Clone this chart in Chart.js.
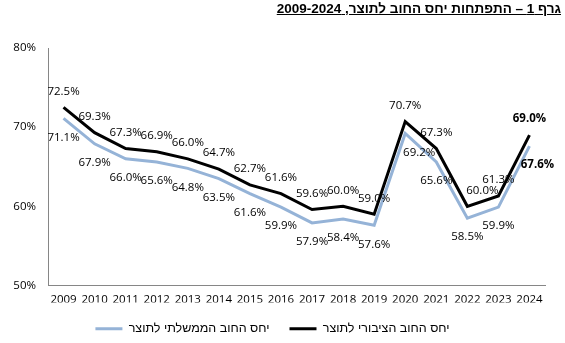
<!DOCTYPE html>
<html>
<head>
<meta charset="utf-8">
<script src="https://cdn.jsdelivr.net/npm/chart.js@4.4.1/dist/chart.umd.min.js"></script>
<style>
  body { margin: 0; background: #fff; }
  #wrap { position: relative; width: 565px; height: 343px; }
  #title {
    position: absolute; top: 1px; right: 4px;
    font: bold 13.5px "Liberation Sans", Arial, sans-serif;
    text-decoration: underline; white-space: nowrap; color: #000;
  }
</style>
</head>
<body>
<div id="wrap">
  <div id="title" dir="rtl">גרף 1 – התפתחות יחס החוב לתוצר, 2009-2024</div>
  <canvas id="chartDebt" width="565" height="343"></canvas>
</div>
<script>
const years = ['2009', '2010', '2011', '2012', '2013', '2014', '2015', '2016',
               '2017', '2018', '2019', '2020', '2021', '2022', '2023', '2024'];
// יחס החוב הממשלתי לתוצר
const govDebt = [71.1, 67.9, 66.0, 65.6, 64.8, 63.5, 61.6, 59.9, 57.9, 58.4, 57.6, 69.2, 65.6, 58.5, 59.9, 67.6];
// יחס החוב הציבורי לתוצר
const publicDebt = [72.5, 69.3, 67.3, 66.9, 66.0, 64.7, 62.7, 61.6, 59.6, 60.0, 59.0, 70.7, 67.3, 60.0, 61.3, 69.0];
const seriesNames = ['יחס החוב הממשלתי לתוצר', 'יחס החוב הציבורי לתוצר'];
const yMin = 50, yMax = 80, yStep = 10;

const labelFont = '"Open Sans", "Liberation Sans", sans-serif';

// value labels: black series above the point, blue series below
const valueLabels = {
  id: 'valueLabels',
  afterDatasetsDraw(chart) {
    const ctx = chart.ctx;
    chart.data.datasets.forEach((ds, di) => {
      const meta = chart.getDatasetMeta(di);
      const last = ds.data.length - 1;
      meta.data.forEach((pt, i) => {
        const dx = (ds.labelDx && ds.labelDx[i]) || 0;
        ctx.save();
        ctx.font = (i === last ? 'bold ' : '') + '11.5px ' + labelFont;
        ctx.fillStyle = '#000';
        ctx.textAlign = 'center';
        ctx.textBaseline = 'middle';
        ctx.fillText(ds.data[i].toFixed(1) + '%', pt.x + dx, pt.y + ds.labelDy);
        ctx.restore();
      });
    });
  }
};

new Chart(document.getElementById('chartDebt').getContext('2d'), {
  type: 'line',
  data: {
    labels: years,
    datasets: [{
      label: seriesNames[0],
      data: govDebt,
      borderColor: '#95b3d7',
      backgroundColor: '#95b3d7',
      borderWidth: 3,
      pointRadius: 0,
      tension: 0,
      labelDy: 19,
      labelDx: { 11: 14, 15: 8 }
    }, {
      label: seriesNames[1],
      data: publicDebt,
      borderColor: '#000',
      backgroundColor: '#000',
      borderWidth: 3,
      pointRadius: 0,
      tension: 0,
      labelDy: -16,
      labelDx: { 13: 15 }
    }]
  },
  options: {
    responsive: false,
    animation: false,
    layout: { padding: { top: 48, right: 20, left: 0, bottom: -2 } },
    scales: {
      x: {
        offset: true,
        grid: { display: false, drawTicks: false },
        border: { color: '#868686' },
        ticks: { color: '#000', font: { family: labelFont, size: 11.5 }, padding: 7, maxRotation: 0, autoSkip: false },
        afterFit: (s) => { s.height = 17; }
      },
      y: {
        min: yMin,
        max: yMax,
        grid: { display: false, drawTicks: false },
        border: { color: '#868686' },
        ticks: {
          stepSize: yStep,
          color: '#000',
          font: { family: labelFont, size: 11.5 },
          padding: 12,
          callback: (v) => v + '%'
        },
        afterFit: (s) => { s.width = 48; }
      }
    },
    plugins: {
      legend: {
        position: 'bottom',
        labels: {
          usePointStyle: true,
          pointStyle: 'line',
          pointStyleWidth: 27,
          color: '#000',
          padding: 20,
          font: { family: '"Liberation Sans", Arial, sans-serif', size: 12.5 }
        }
      },
      tooltip: { enabled: false }
    }
  },
  plugins: [valueLabels]
});
</script>
</body>
</html>
